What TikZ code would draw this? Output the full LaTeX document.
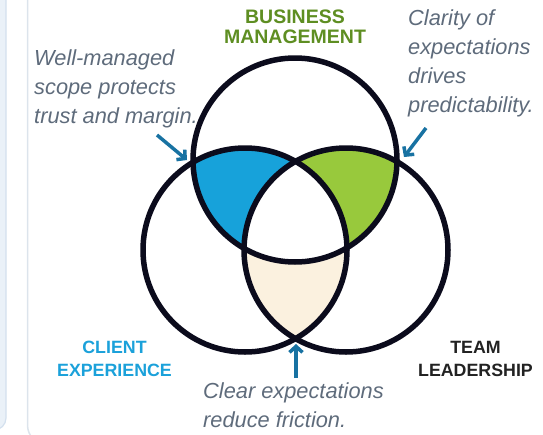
\documentclass[tikz,border=0pt]{standalone}
\usepackage{fontspec}
\setmainfont{Liberation Sans}
\usetikzlibrary{arrows.meta}
\definecolor{ringcol}{HTML}{0B0B1C}
\definecolor{bluefill}{HTML}{17A2DA}
\definecolor{greenfill}{HTML}{98C93C}
\definecolor{creamfill}{HTML}{FBF1DF}
\definecolor{bizgreen}{HTML}{5E8E22}
\definecolor{clientblue}{HTML}{1BA1DA}
\definecolor{teamdark}{HTML}{222222}
\definecolor{notegrey}{HTML}{5E6B7B}
\definecolor{arrowblue}{HTML}{1872A2}
\definecolor{stripfill}{HTML}{EAF1F8}
\definecolor{stripline}{HTML}{D3E0EE}
\definecolor{panelline}{HTML}{DCE4EC}
\tikzset{
  ring/.style={draw=ringcol, line width=5.5pt},
  heading/.style={font=\bfseries\fontsize{19.5}{20}\selectfont, align=center, inner sep=0pt},
  label/.style={font=\bfseries\fontsize{17.8}{23}\selectfont, align=center, inner sep=0pt},
  note/.style={font=\itshape\fontsize{21.8}{29}\selectfont, text=notegrey, align=left, inner sep=0pt},
  pointer/.style={draw=arrowblue, line width=3.5pt, -{Straight Barb[length=6pt,width=13pt,line width=3.5pt]}}
}
\begin{document}
\begin{tikzpicture}[x=1pt,y=-1pt]
\useasboundingbox (0,0) rectangle (543,434);
% background panels
\draw[stripline, fill=stripfill, line width=1.2pt, rounded corners=12pt] (-20,-20) rectangle (6,430);
\draw[panelline, line width=1.5pt, rounded corners=20pt] (27.5,-20) rectangle (580,445);
% circle centres
\coordinate (T) at (295,160);
\coordinate (L) at (245,250);
\coordinate (R) at (346,250);
% fills
\begin{scope}
  \clip (T) circle (102);
  \fill[bluefill] (L) circle (102);
  \fill[greenfill] (R) circle (102);
\end{scope}
\begin{scope}
  \clip (L) circle (102);
  \fill[creamfill] (R) circle (102);
\end{scope}
\begin{scope}
  \clip (T) circle (102);
  \clip (L) circle (102);
  \fill[white] (R) circle (102);
\end{scope}
% rings
\draw[ring] (T) circle (102);
\draw[ring] (L) circle (102);
\draw[ring] (R) circle (102);
% headings (anchor = baseline of last line)
\node[heading, text=bizgreen, anchor=base] (biz) at (295,43) {BUSINESS\\MANAGEMENT};
\node[label, text=clientblue, anchor=base] (client) at (114.5,376) {CLIENT\\EXPERIENCE};
\node[label, text=teamdark, anchor=base] (team) at (475.5,376) {TEAM\\LEADERSHIP};
% notes
\node[note, anchor=base west] (noteL) at (34,123) {Well-managed\\scope protects\\trust and margin.};
\node[note, anchor=base west] (noteR) at (408,112) {Clarity of\\expectations\\drives\\predictability.};
\node[note, anchor=base west] (noteB) at (203,427) {Clear expectations\\reduce friction.};
% pointer arrows
\coordinate (tailL) at (157,135);
\coordinate (tipL) at (187,160);
\coordinate (tailR) at (426,128);
\coordinate (tipR) at (404,157);
\coordinate (tailB) at (296,378);
\coordinate (tipB) at (296,344);
\draw[pointer] (tailL) -- (tipL);
\draw[pointer] (tailR) -- (tipR);
\draw[pointer] (tailB) -- (tipB);
\end{tikzpicture}
\end{document}
